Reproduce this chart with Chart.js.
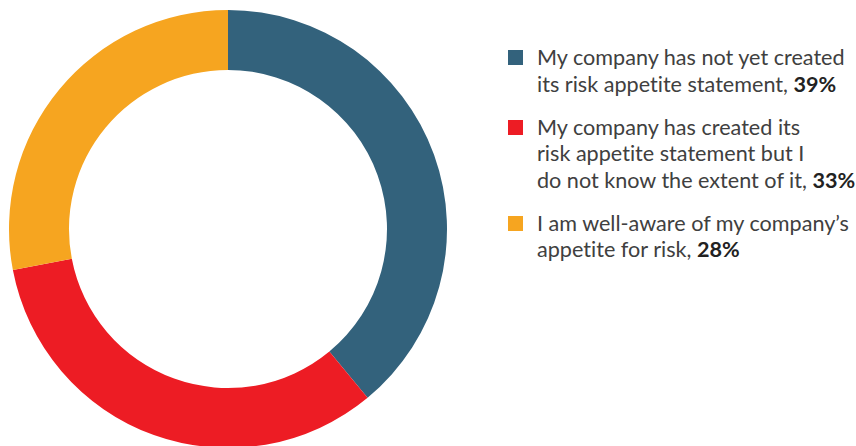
<!DOCTYPE html>
<html>
<head>
<meta charset="utf-8">
<script src="https://cdn.jsdelivr.net/npm/chart.js@4"></script>
<style>
  html, body { margin: 0; padding: 0; background: #fff; overflow: hidden; }
  body { width: 856px; height: 446px; position: relative; }
  #chartBox { position: absolute; left: 9px; top: 10px; width: 438px; height: 438px; }
  #legend { position: absolute; left: 508px; top: 44px; font-family: Lato, sans-serif; font-size: 21.6px; color: #404040; font-variant-ligatures: none; }
  .item { position: relative; padding-left: 29px; line-height: 26.5px; margin-bottom: 16.5px; }
  .item .box { position: absolute; left: 0; top: 6px; width: 15px; height: 15px; }
  .item b { color: #222; }
</style>
</head>
<body>
<div id="chartBox"><canvas id="donut"></canvas></div>
<div id="legend"></div>
<script>
// survey answers, each label split into the lines shown in the legend
const labels = [
  ['My company has not yet created', 'its risk appetite statement,'],
  ['My company has created its', 'risk appetite statement but I', 'do not know the extent of it,'],
  ['I am well-aware of my company\u2019s', 'appetite for risk,']
];
const shares = [39, 33, 28];
const colours = ['#33627c', '#ed1c24', '#f6a520'];

const ctx = document.getElementById('donut').getContext('2d');
const myChart = new Chart(ctx, {
  type: 'doughnut',
  data: {
    labels: labels.map(l => l.join(' ')),
    datasets: [{
      data: shares,
      backgroundColor: colours,
      borderWidth: 0,
      hoverOffset: 0
    }]
  },
  options: {
    responsive: true,
    maintainAspectRatio: false,
    animation: false,
    cutout: '72.6%',
    layout: { padding: 0 },
    plugins: {
      legend: { display: false },
      tooltip: { enabled: false }
    }
  }
});

// legend built as html so the percentage can be bold
const legendDiv = document.getElementById('legend');
labels.forEach((lines, i) => {
  const item = document.createElement('div');
  item.className = 'item';
  let html = '<span class="box" style="background:' + colours[i] + '"></span>';
  html += lines.map((line, j) =>
    j === lines.length - 1 ? line + ' <b>' + shares[i] + '%</b>' : line
  ).join('<br>');
  item.innerHTML = html;
  legendDiv.appendChild(item);
});
</script>
</body>
</html>
